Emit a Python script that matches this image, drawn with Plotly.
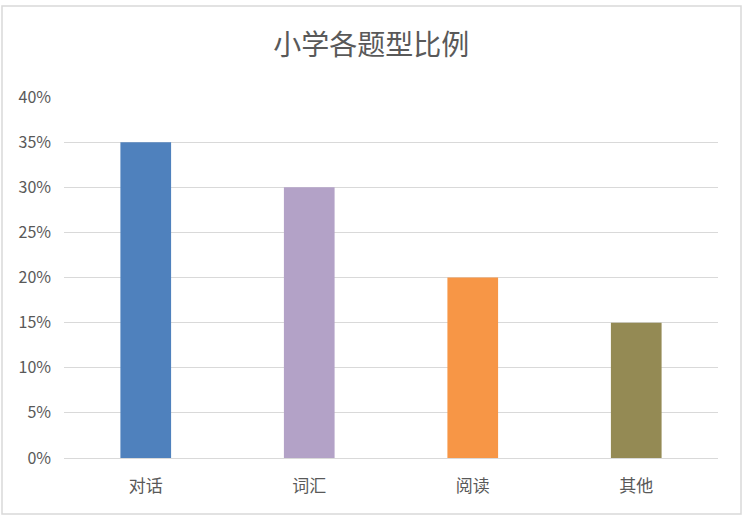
import plotly.graph_objects as go

# 数据
categories = ["对话", "词汇", "阅读", "其他"]
values = [0.35, 0.30, 0.20, 0.15]
bar_colors = ["#4F81BD", "#B3A2C7", "#F79646", "#948A54"]
y_ticks = [0, 0.05, 0.10, 0.15, 0.20, 0.25, 0.30, 0.35, 0.40]
y_ticktext = ["0%", "5%", "10%", "15%", "20%", "25%", "30%", "35%", "40%"]

W, H = 747, 521
L, R, T, B = 64, 29, 97, 63
pw, ph = W - L - R, H - T - B

fig = go.Figure(go.Bar(
    x=categories, y=values,
    marker=dict(color=bar_colors, line=dict(width=0)),
    width=0.31,
))

fig.update_layout(
    width=W, height=H,
    margin=dict(l=L, r=R, t=T, b=B),
    paper_bgcolor="white", plot_bgcolor="white",
    font=dict(family="Noto Sans CJK SC, Noto Sans, sans-serif", color="#595959", size=16),
    title=dict(text="小学各题型比例", x=0.497, xanchor="center",
               y=1 - 45 / H, yanchor="middle",
               font=dict(size=28, color="#595959")),
    showlegend=False,
)
fig.update_xaxes(showline=False, ticks="", tickfont=dict(size=17), showgrid=False,
                 ticklabelstandoff=16)
fig.update_yaxes(range=[0, 0.40], tickvals=y_ticks, ticktext=y_ticktext,
                 showgrid=True, gridcolor="#D9D9D9", gridwidth=1,
                 zeroline=True, zerolinecolor="#D9D9D9", zerolinewidth=1,
                 showline=False, ticks="", ticklabelstandoff=12,
                 tickfont=dict(size=16))

# 图表外框
fig.add_shape(type="rect", xref="paper", yref="paper",
              x0=(2 - L) / pw, x1=(741 - L) / pw,
              y0=(T + ph - 514) / ph, y1=(T + ph - 6) / ph,
              line=dict(color="#D9D9D9", width=1.5), layer="below")

fig.write_html("out.html", config={"displayModeBar": False},
               post_script="document.body.style.margin='0px';")
